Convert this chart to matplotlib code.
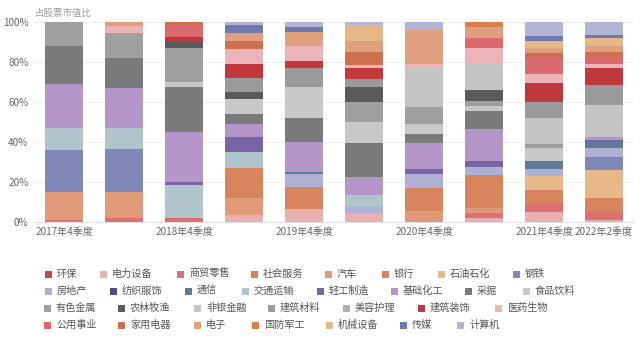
import matplotlib
matplotlib.use("Agg")
import matplotlib.pyplot as plt
from matplotlib.patches import Rectangle
import numpy as np

plt.rcParams['font.family'] = ['Noto Sans CJK SC', 'DejaVu Sans']

quarters = ['2017年4季度', '2018年2季度', '2018年4季度', '2019年2季度', '2019年4季度',
            '2020年2季度', '2020年4季度', '2021年2季度', '2021年4季度', '2022年2季度']
shown_labels = ['2017年4季度', '2018年4季度', '2019年4季度', '2020年4季度', '2021年4季度', '2022年2季度']

industries = ['环保', '电力设备', '商贸零售', '社会服务', '汽车', '银行', '石油石化', '钢铁',
              '房地产', '纺织服饰', '通信', '交通运输', '轻工制造', '基础化工', '采掘', '食品饮料',
              '有色金属', '农林牧渔', '非银金融', '建筑材料', '美容护理', '建筑装饰', '医药生物',
              '公用事业', '家用电器', '电子', '国防军工', '机械设备', '传媒', '计算机']

colors = ['#c0464a', '#e8b0b0', '#dc7070', '#d4825a', '#e09a78', '#d8845c', '#e6b88a', '#8088b8',
          '#b0b0d4', '#4a4e88', '#5e7c98', '#b0c4cc', '#7a64a8', '#b496c8', '#7a7a7a', '#c8c8c8',
          '#a0a0a0', '#5a5a5a', '#c4c4c4', '#9a9a9a', '#b0b0b0', '#c0383c', '#ecb4b8',
          '#dc6870', '#cc7050', '#e0a080', '#d88050', '#e4b888', '#7078b0', '#b4b4d4']

# share (%) of each industry per quarter, in industries order
q2017_4 = [0, 0, 1.0, 0, 14.0, 0, 0, 20.8, 0, 0, 0, 11.2, 0, 22.0, 19.0, 0,
           12.0, 0, 0, 0, 0, 0, 0, 0, 0, 0, 0, 0, 0, 0]
q2018_2 = [0, 0, 1.7, 0, 13.0, 0, 0, 21.7, 0, 0, 0, 10.3, 0, 20.3, 15.0, 0,
           12.2, 0, 0, 0, 0, 0, 3.5, 0, 0, 2.3, 0, 0, 0, 0]
q2018_4 = [0, 0, 1.7, 0, 0, 0, 0, 0, 0, 0, 0, 16.7, 1.2, 25.2, 22.3, 2.7,
           17.0, 2.8, 0, 0, 0, 2.5, 0, 5.5, 2.5, 0, 0, 0, 0, 0]
q2019_2 = [0, 3.3, 0, 0, 8.3, 15.0, 0, 0, 0, 0, 0, 8.3, 7.5, 6.5, 4.8, 7.5,
           0, 3.7, 0, 6.7, 0, 7.2, 7.5, 0, 4.0, 4.2, 0, 0, 3.8, 1.7]
q2019_4 = [0, 6.3, 0, 0, 0, 11.2, 0, 0, 6.2, 0, 1.0, 0, 0, 15.0, 12.0, 15.8,
           0, 0, 0, 9.2, 0, 3.8, 7.5, 0, 0, 6.7, 0, 0, 2.5, 2.8]
q2020_2 = [0, 4.2, 0, 0, 0, 0, 0, 0, 3.3, 0, 0, 5.8, 0, 9.2, 16.7, 10.8,
           10.0, 7.5, 0, 3.8, 0, 5.3, 1.7, 0, 6.7, 5.3, 0, 8.0, 0, 1.7]
q2020_4 = [0, 0, 0, 0, 5.3, 11.3, 0, 0, 7.0, 0, 0, 0, 2.5, 13.3, 4.2, 5.0,
           8.8, 0, 20.0, 0, 0, 0, 1.2, 0, 0, 17.2, 0, 0, 0, 4.2]
q2021_2 = [0, 1.7, 2.5, 0, 2.5, 16.7, 0, 0, 3.8, 0, 0, 0, 3.3, 15.8, 9.0, 2.7,
           2.3, 5.5, 13.3, 0, 0, 0, 7.5, 5.0, 0, 5.8, 2.5, 0, 0, 0]
q2021_4 = [0, 5.0, 4.2, 0, 0, 6.7, 6.7, 0, 3.8, 0, 4.0, 0, 0, 0, 0, 6.3,
           2.0, 0, 13.0, 8.0, 0, 9.5, 4.5, 8.3, 2.2, 2.5, 0, 3.7, 2.2, 7.5]
q2022_2 = [0, 1.0, 4.0, 0, 0, 7.0, 13.7, 6.7, 4.5, 0, 3.0, 0, 1.0, 1.5, 0, 0,
           0, 0, 16.0, 10.0, 0, 8.3, 2.2, 3.3, 2.5, 3.3, 0, 3.7, 1.7, 6.6]

series_by_quarter = [q2017_4, q2018_2, q2018_4, q2019_2, q2019_4,
                     q2020_2, q2020_4, q2021_2, q2021_4, q2022_2]

W, H = 640, 339
fig = plt.figure(figsize=(W / 100, H / 100), dpi=100)
ax = fig.add_axes([34 / W, 1 - 221.5 / H, 600 / W, 200 / H])

data = np.array(series_by_quarter)  # quarters x industries
x = np.arange(len(quarters))
bottom = np.zeros(len(quarters))
for j, name in enumerate(industries):
    vals = data[:, j]
    ax.bar(x, vals, bottom=bottom, width=0.64, color=colors[j], linewidth=0, zorder=2)
    bottom += vals

ax.set_xlim(-0.5, len(quarters) - 0.5)
ax.set_ylim(0, 100)
ax.set_yticks([0, 20, 40, 60, 80, 100])
ax.set_yticklabels([f'{v}%' for v in [0, 20, 40, 60, 80, 100]])
ax.yaxis.grid(True, color='#eeeeee', linewidth=0.8, zorder=0)
ax.set_axisbelow(True)
for s in ['top', 'right', 'left']:
    ax.spines[s].set_visible(False)
ax.spines['bottom'].set_color('#e0e0e0')
ax.spines['bottom'].set_linewidth(0.8)
ax.tick_params(axis='y', length=0, labelsize=7.2, labelcolor='#666666', pad=4)
tick_pos = [i for i, q in enumerate(quarters) if q in shown_labels]
ax.set_xticks(tick_pos)
ax.set_xticklabels([quarters[i] for i in tick_pos])
ax.tick_params(axis='x', length=0, labelsize=7.2, labelcolor='#666666', pad=4)

fig.text(35 / W, 1 - 13 / H, '占股票市值比', fontsize=6.8, color='#999999', va='center', ha='left')

# legend layout (pixel x of marker left edge per row, row y centers)
legend_rows = [
    (274, [45, 100, 177, 251, 325, 382, 438, 513]),
    (291, [45, 110, 185, 242, 317, 391, 465, 523]),
    (308, [44, 118, 194, 268, 343, 418, 495]),
    (325, [44, 118, 194, 252, 326, 400, 457]),
]
k = 0
for yc, xs in legend_rows:
    for xl in xs:
        fig.patches.append(Rectangle((xl / W, 1 - (yc + 3.5) / H), 7 / W, 7 / H,
                                     transform=fig.transFigure, color=colors[k], linewidth=0))
        fig.text((xl + 12) / W, 1 - yc / H, industries[k], fontsize=7.3, color='#555555',
                 va='center', ha='left')
        k += 1

fig.savefig('out.png', dpi=100)
